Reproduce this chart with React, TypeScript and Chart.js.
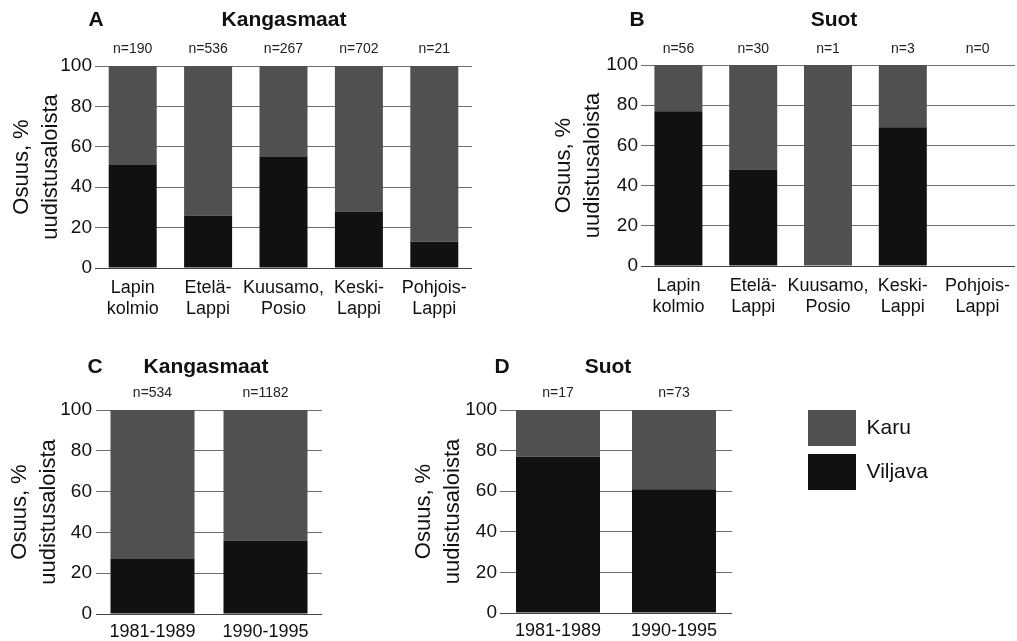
import React, { useEffect, useRef } from 'react';
import { Chart, registerables } from 'chart.js';

Chart.register(...registerables);

const FONT = "'Liberation Sans', Arial, Helvetica, sans-serif";
Chart.defaults.font.family = FONT;
Chart.defaults.color = '#111111';

// ---- data ----
const regionLabels = [
  ['Lapin', 'kolmio'],
  ['Etelä-', 'Lappi'],
  ['Kuusamo,', 'Posio'],
  ['Keski-', 'Lappi'],
  ['Pohjois-', 'Lappi'],
];
const periodLabels = ['1981-1989', '1990-1995'];

const countsA = ['n=190', 'n=536', 'n=267', 'n=702', 'n=21'];
const viljavaA = [51, 26, 55, 28, 13];
const karuA = [49, 74, 45, 72, 87];

const countsB = ['n=56', 'n=30', 'n=1', 'n=3', 'n=0'];
const viljavaB = [77, 48, 0, 69, 0];
const karuB = [23, 52, 100, 31, 0];

const countsC = ['n=534', 'n=1182'];
const viljavaC = [27, 36];
const karuC = [73, 64];

const countsD = ['n=17', 'n=73'];
const viljavaD = [77, 61];
const karuD = [23, 39];

const yTickValues = [0, 20, 40, 60, 80, 100];
const yTitle = ['Osuus, %', 'uudistusaloista'];
const seriesNames = ['Viljava', 'Karu'];
const seriesColors = ['#111111', '#505050'];

// ---- plugin drawing panel letter + title ----
const panelTitlePlugin = {
  id: 'panelTitle',
  afterDraw(chart: any, _args: any, opts: any) {
    if (!opts || !opts.title) return;
    const ctx = chart.ctx;
    ctx.save();
    ctx.font = `bold ${opts.size}px ${FONT}`;
    ctx.fillStyle = '#111111';
    ctx.textAlign = 'center';
    ctx.textBaseline = 'middle';
    ctx.fillText(opts.letter, opts.letterX, opts.y);
    ctx.fillText(opts.title, opts.titleX, opts.y);
    ctx.restore();
  },
};

type Spec = {
  left: number; top: number; width: number; height: number;
  area: { l: number; r: number; t: number; b: number };
  labels: any[]; counts: string[]; viljava: number[]; karu: number[];
  barPct: number; letter: string; letterX: number; title: string; titleX: number; titleY: number;
  yTitlePad: number; yTickPad: number; xTickPad: number; countPad: number;
};

const noSidePadding = (s: any) => { s.paddingLeft = 0; s.paddingRight = 0; };

function buildConfig(p: Spec): any {
  return {
    type: 'bar',
    data: {
      labels: p.labels,
      datasets: [
        { label: seriesNames[0], data: p.viljava, backgroundColor: seriesColors[0], barPercentage: p.barPct, categoryPercentage: 1, borderWidth: 0 },
        { label: seriesNames[1], data: p.karu, backgroundColor: seriesColors[1], barPercentage: p.barPct, categoryPercentage: 1, borderWidth: 0 },
      ],
    },
    options: {
      animation: false,
      responsive: false,
      devicePixelRatio: 1,
      layout: { padding: { left: 0, top: 0, right: p.width - p.area.r, bottom: 0 } },
      plugins: {
        legend: { display: false },
        tooltip: { enabled: false },
        panelTitle: { letter: p.letter, letterX: p.letterX, title: p.title, titleX: p.titleX, y: p.titleY, size: 21 },
      },
      scales: {
        x: {
          stacked: true,
          offset: true,
          grid: { display: false, drawTicks: false },
          border: { display: false },
          ticks: {
            autoSkip: false, maxRotation: 0, minRotation: 0,
            padding: p.xTickPad, color: '#111111',
            font: { size: 18, lineHeight: 1.2 },
          },
          afterFit: (s: any) => { s.height = p.height - p.area.b; noSidePadding(s); },
        },
        n: {
          type: 'category',
          position: 'top',
          labels: p.counts,
          offset: true,
          grid: { display: false, drawTicks: false },
          border: { display: false },
          ticks: { autoSkip: false, maxRotation: 0, minRotation: 0, padding: p.countPad, color: '#222222', font: { size: 14, lineHeight: 1.2 } },
          afterFit: (s: any) => { s.height = p.area.t; noSidePadding(s); },
        },
        y: {
          stacked: true,
          min: 0,
          max: 100,
          afterBuildTicks: (s: any) => { s.ticks = yTickValues.map((v) => ({ value: v })); },
          ticks: { padding: p.yTickPad, color: '#111111', font: { size: 19 } },
          grid: {
            drawTicks: false,
            lineWidth: 1,
            color: (c: any) => (c.tick && c.tick.value === 0 ? '#444444' : '#6e6e6e'),
          },
          border: { display: false },
          title: {
            display: true,
            text: yTitle,
            color: '#111111',
            font: { size: 22, lineHeight: 1.3 },
            padding: { top: p.yTitlePad, bottom: 0 },
          },
          afterFit: (s: any) => { s.width = p.area.l; },
        },
      },
    },
    plugins: [panelTitlePlugin],
  };
}

const panels: Spec[] = [
  {
    left: 0, top: 0, width: 500, height: 330,
    area: { l: 95, r: 472, t: 66, b: 268 },
    labels: regionLabels, counts: countsA, viljava: viljavaA, karu: karuA,
    barPct: 48 / 75.4, letter: 'A', letterX: 96, title: 'Kangasmaat', titleX: 284, titleY: 20,
    yTitlePad: 8, yTickPad: 3, xTickPad: 9, countPad: 8,
  },
  {
    left: 500, top: 0, width: 517, height: 330,
    area: { l: 141, r: 515, t: 65, b: 266 },
    labels: regionLabels, counts: countsB, viljava: viljavaB, karu: karuB,
    barPct: 48 / 74.8, letter: 'B', letterX: 137, title: 'Suot', titleX: 334, titleY: 20,
    yTitlePad: 50, yTickPad: 3, xTickPad: 9, countPad: 7,
  },
  {
    left: 0, top: 330, width: 400, height: 311,
    area: { l: 96, r: 322, t: 80, b: 284 },
    labels: periodLabels, counts: countsC, viljava: viljavaC, karu: karuC,
    barPct: 84 / 113, letter: 'C', letterX: 95, title: 'Kangasmaat', titleX: 206, titleY: 37.5,
    yTitlePad: 6, yTickPad: 4, xTickPad: 7, countPad: 8,
  },
  {
    left: 400, top: 330, width: 400, height: 311,
    area: { l: 100, r: 332, t: 80, b: 283 },
    labels: periodLabels, counts: countsD, viljava: viljavaD, karu: karuD,
    barPct: 84 / 116, letter: 'D', letterX: 102, title: 'Suot', titleX: 208, titleY: 37,
    yTitlePad: 10, yTickPad: 3, xTickPad: 7, countPad: 8,
  },
];

function legendConfig(): any {
  return {
    type: 'bar',
    data: {
      labels: [],
      datasets: [
        { label: seriesNames[0], data: [], backgroundColor: seriesColors[0], borderWidth: 0 },
        { label: seriesNames[1], data: [], backgroundColor: seriesColors[1], borderWidth: 0 },
      ],
    },
    options: {
      animation: false,
      responsive: false,
      devicePixelRatio: 1,
      layout: { padding: 0 },
      scales: { x: { display: false }, y: { display: false } },
      plugins: {
        tooltip: { enabled: false },
        legend: {
          position: 'left',
          align: 'start',
          reverse: true,
          labels: { boxWidth: 48, boxHeight: 36, padding: 8, color: '#111111', font: { size: 21 } },
        },
      },
    },
  };
}

function ChartCanvas(props: { left: number; top: number; width: number; height: number; make: () => any }) {
  const ref = useRef<HTMLCanvasElement>(null);
  useEffect(() => {
    const chart = new Chart(ref.current as HTMLCanvasElement, props.make());
    return () => chart.destroy();
  }, []);
  return (
    <canvas
      ref={ref}
      width={props.width}
      height={props.height}
      style={{ position: 'absolute', left: props.left, top: props.top, width: props.width, height: props.height, display: 'block' }}
    />
  );
}

export default function App() {
  return (
    <div style={{ position: 'absolute', left: 0, top: 0, width: 1017, height: 641, background: '#ffffff', overflow: 'hidden' }}>
      {panels.map((p, i) => (
        <ChartCanvas key={i} left={p.left} top={p.top} width={p.width} height={p.height} make={() => buildConfig(p)} />
      ))}
      <ChartCanvas left={800} top={402} width={320} height={130} make={legendConfig} />
    </div>
  );
}
